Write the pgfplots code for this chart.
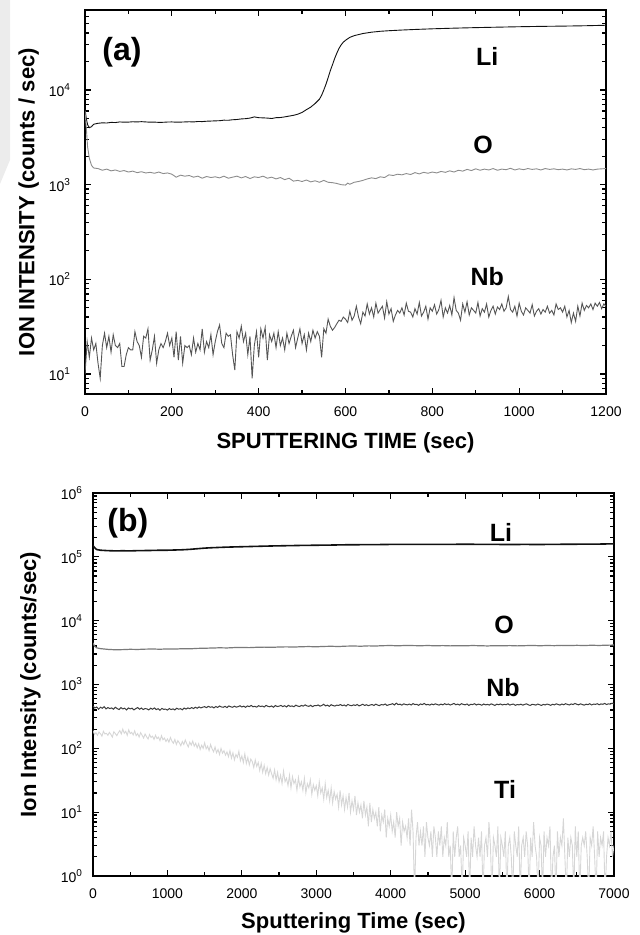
\documentclass[border=0pt]{standalone}
\usepackage{fontspec}
\setmainfont{Liberation Sans}
\usepackage{pgfplots}
\pgfplotsset{compat=1.18}

\definecolor{liline}{HTML}{111111}
\definecolor{oline}{HTML}{8C8C8C}
\definecolor{nbline}{HTML}{555555}
\definecolor{oline2}{HTML}{7A7A7A}
\definecolor{nbline2}{HTML}{3C3C3C}
\definecolor{tiline}{HTML}{D6D6D6}

\pgfplotsset{
  every axis/.append style={
    scale only axis,
    width=260.5pt,
    tick align=inside,
    axis line style={line width=0.9pt},
    major tick length=3pt,
    minor tick length=1.8pt,
    tick label style={font=\fontsize{7}{8}\selectfont},
    label style={font=\fontsize{11}{13}\selectfont\bfseries},
    xticklabel style={yshift=-3pt},
  },
  every tick/.append style={black,line width=0.6pt},
}
\tikzset{speclabel/.style={font=\fontsize{12.5}{14}\selectfont\bfseries}}

\begin{document}
\begin{tikzpicture}
\path[use as bounding box] (0,0) rectangle (319.5pt,-467.5pt);
\fill[gray!15] (0,0) -- (5pt,0) -- (5pt,-80pt) -- (0,-92pt) -- cycle;

% ---------------- (a) ----------------
\begin{axis}[
  ymode=log,
  at={(42.5pt,-197pt)}, anchor=south west, height=192pt,
  xmin=0, xmax=1200, ymin=6.15, ymax=70000,
  xtick={0,200,400,600,800,1000,1200},
  xticklabels={0,200,400,600,800,1000,1200},
  minor xtick={100,300,500,700,900,1100},
  ytick={10,100,1000,10000},
  yticklabels={10\textsuperscript{1},10\textsuperscript{2},10\textsuperscript{3},10\textsuperscript{4}},
  minor ytick={7,8,9,20,30,40,50,60,70,80,90,200,300,400,500,600,700,800,900,2000,3000,4000,5000,6000,7000,8000,9000,20000,30000,40000,50000,60000,70000},
  yticklabel style={xshift=-3.5pt},
  xlabel={SPUTTERING TIME (sec)},
  ylabel={ION INTENSITY (counts / sec)},
  xlabel style={at={(axis description cs:0.5,-0.128)}, anchor=center},
  ylabel style={at={(axis description cs:-0.108,0.5)}, anchor=center},
]
% Li
\addplot[liline, line width=0.45pt] coordinates {
(0,6300)(3,5000)(6,4300)(10,4000)(15,4100)(20,4350)(30,4450)(40,4500)(50,4480)(60,4550)
(70,4530)(80,4600)(90,4570)(100,4580)(110,4620)(120,4600)(130,4630)(140,4600)(150,4570)(160,4580)
(170,4550)(180,4560)(190,4590)(200,4600)(210,4570)(220,4580)(230,4600)(240,4620)(250,4600)(260,4650)
(270,4640)(280,4680)(290,4700)(300,4720)(310,4740)(320,4800)(330,4790)(340,4850)(350,4880)(360,4950)
(370,4980)(380,5050)(390,5200)(400,5100)(410,5080)(420,5050)(430,5000)(440,5100)(450,5120)(460,5200)
(470,5300)(480,5400)(490,5550)(500,5800)(510,6200)(520,6600)(530,7200)(540,8000)(545,8800)(550,10000)
(555,11500)(560,13500)(565,16000)(570,18500)(575,21500)(580,24500)(585,27500)(590,30000)(595,32000)(600,33500)
(610,36000)(620,37500)(630,38500)(640,39500)(660,40800)(680,41700)(700,42300)(730,43000)(760,43600)(800,44300)
(850,45000)(900,45600)(950,46100)(1000,46600)(1050,47000)(1100,47300)(1150,47700)(1200,48300)
};
% O
\addplot[oline, line width=0.45pt] coordinates {
(0,6000)(3,4000)(6,2500)(10,1900)(15,1600)(20,1500)(30,1480)(40,1420)(50,1460)(60,1400)
(70,1430)(80,1380)(90,1410)(100,1360)(110,1390)(120,1340)(130,1370)(140,1330)(150,1350)(160,1320)
(170,1360)(180,1310)(190,1330)(200,1290)(210,1200)(220,1260)(230,1230)(240,1250)(250,1200)(260,1230)
(270,1170)(280,1220)(290,1190)(300,1210)(310,1180)(320,1230)(330,1170)(340,1200)(350,1230)(360,1180)
(370,1220)(380,1160)(390,1210)(400,1190)(410,1230)(420,1170)(430,1200)(440,1150)(450,1190)(460,1130)
(470,1170)(480,1090)(490,1110)(500,1080)(510,1120)(520,1070)(530,1100)(540,1060)(550,1110)(560,1060)
(570,1050)(580,1030)(590,1000)(600,990)(605,1040)(610,1010)(620,1060)(630,1080)(640,1110)(650,1150)
(660,1180)(670,1160)(680,1210)(690,1190)(700,1270)(710,1250)(720,1290)(730,1270)(740,1310)(750,1280)
(760,1340)(770,1300)(780,1350)(790,1320)(800,1360)(810,1330)(820,1380)(830,1350)(840,1400)(850,1360)
(860,1420)(870,1390)(880,1450)(890,1410)(900,1470)(910,1420)(920,1460)(930,1430)(940,1480)(950,1420)
(960,1460)(970,1440)(980,1490)(990,1430)(1000,1470)(1010,1440)(1020,1480)(1030,1450)(1040,1470)(1050,1430)
(1060,1480)(1070,1450)(1080,1470)(1090,1440)(1100,1460)(1110,1430)(1120,1470)(1130,1450)(1140,1480)(1150,1440)
(1160,1460)(1170,1430)(1180,1460)(1190,1470)(1200,1480)
};
% Nb
\addplot[nbline, line width=0.45pt] coordinates {
(0,10)(5,22)(10,15)(15,24)(20,18)(25,21)(30,13)(35,9)(40,20)(45,27)
(50,19)(55,25)(60,17)(65,26)(70,20)(75,19)(80,21)(85,12)(90,12)(95,16)
(100,19)(105,18)(110,18)(115,28)(120,22)(125,20)(130,15)(135,25)(140,24)(145,30)
(150,14)(155,18)(160,25)(165,13)(170,18)(175,21)(180,19)(185,22)(190,27)(195,20)
(200,24)(205,15)(210,28)(215,14)(220,25)(225,13)(230,20)(235,19)(240,20)(245,16)
(250,24)(255,17)(260,21)(265,18)(270,30)(275,17)(280,22)(285,19)(290,26)(295,16)
(300,22)(305,28)(310,33)(315,21)(320,19)(325,27)(330,25)(335,26)(340,16)(345,11)
(350,28)(355,24)(360,32)(365,22)(370,27)(375,16)(380,25)(385,9)(390,20)(395,28)
(400,15)(405,30)(410,24)(415,31)(420,14)(425,26)(430,22)(435,27)(440,19)(445,28)
(450,20)(455,24)(460,18)(465,27)(470,21)(475,25)(480,29)(485,19)(490,24)(495,30)
(500,21)(505,26)(510,18)(515,27)(520,22)(525,29)(530,24)(535,28)(540,25)(545,15)
(550,30)(555,27)(560,38)(565,32)(570,29)(575,31)(580,34)(585,37)(590,36)(595,40)
(600,38)(605,35)(610,46)(615,37)(620,41)(625,52)(630,40)(635,34)(640,45)(645,41)
(650,55)(655,43)(660,50)(665,40)(670,56)(675,44)(680,48)(685,52)(690,39)(695,58)
(700,43)(705,49)(710,36)(715,42)(720,47)(725,44)(730,50)(735,42)(740,56)(745,46)
(750,45)(755,40)(760,49)(765,43)(770,57)(775,41)(780,45)(785,52)(790,38)(795,50)
(800,46)(805,54)(810,43)(815,48)(820,60)(825,40)(830,50)(835,44)(840,53)(845,42)
(850,64)(855,47)(860,44)(865,37)(870,55)(875,45)(880,58)(885,42)(890,50)(895,47)
(900,44)(905,57)(910,41)(915,49)(920,45)(925,55)(930,40)(935,47)(940,52)(945,43)
(950,51)(955,48)(960,55)(965,46)(970,50)(975,66)(980,48)(985,45)(990,52)(995,41)
(1000,56)(1005,46)(1010,42)(1015,50)(1020,47)(1025,44)(1030,54)(1035,41)(1040,46)(1045,49)
(1050,43)(1055,48)(1060,45)(1065,52)(1070,44)(1075,47)(1080,42)(1085,55)(1090,48)(1095,50)
(1100,45)(1105,52)(1110,40)(1115,47)(1120,35)(1125,44)(1130,36)(1135,52)(1140,41)(1145,56)
(1150,47)(1155,53)(1160,50)(1165,55)(1170,48)(1175,56)(1180,52)(1185,57)(1190,49)(1195,55)
(1200,52)
};
\node[font=\fontsize{16}{18}\selectfont\bfseries] at (rel axis cs:0.071,0.891) {(a)};
\node[speclabel] at (rel axis cs:0.772,0.878) {Li};
\node[speclabel] at (rel axis cs:0.764,0.648) {O};
\node[speclabel] at (rel axis cs:0.772,0.305) {Nb};
\end{axis}

% ---------------- (b) ----------------
\begin{axis}[
  ymode=log,
  at={(46.5pt,-438pt)}, anchor=south west, height=191.5pt,
  xmin=0, xmax=7000, ymin=1, ymax=1000000,
  xtick={0,1000,2000,3000,4000,5000,6000,7000},
  xticklabels={0,1000,2000,3000,4000,5000,6000,7000},
  minor xtick={500,1500,2500,3500,4500,5500,6500},
  ytick={1,10,100,1000,10000,100000,1000000},
  yticklabels={10\textsuperscript{0},10\textsuperscript{1},10\textsuperscript{2},10\textsuperscript{3},10\textsuperscript{4},10\textsuperscript{5},10\textsuperscript{6}},
  minor ytick={2,3,4,5,6,7,8,9,20,30,40,50,60,70,80,90,200,300,400,500,600,700,800,900,2000,3000,4000,5000,6000,7000,8000,9000,20000,30000,40000,50000,60000,70000,80000,90000,200000,300000,400000,500000,600000,700000,800000,900000},
  yticklabel style={xshift=-1.5pt},
  xlabel={Sputtering Time (sec)},
  ylabel={Ion Intensity (counts/sec)},
  xlabel style={at={(axis description cs:0.5,-0.123)}, anchor=center},
  ylabel style={at={(axis description cs:-0.12,0.5)}, anchor=center},
]
% Ti
\addplot[tiline, line width=0.45pt] coordinates {
(0,190)(20,165)(40,175)(60,160)(80,180)(100,170)(120,155)(140,185)(160,168)(180,172)
(200,160)(220,178)(240,165)(260,150)(280,182)(300,170)(320,158)(340,175)(360,190)(380,168)
(400,200)(420,172)(440,185)(460,160)(480,195)(500,170)(520,178)(540,162)(560,188)(580,158)
(600,170)(620,150)(640,176)(660,160)(680,145)(700,168)(720,152)(740,140)(760,165)(780,148)
(800,155)(820,138)(840,160)(860,142)(880,150)(900,132)(920,158)(940,136)(960,145)(980,128)
(1000,140)(1020,125)(1040,148)(1060,130)(1080,120)(1100,138)(1120,115)(1140,132)(1160,122)(1180,110)
(1200,128)(1220,115)(1240,135)(1260,118)(1280,105)(1300,125)(1320,112)(1340,130)(1360,108)(1380,120)
(1400,102)(1420,118)(1440,96)(1460,112)(1480,100)(1500,122)(1520,98)(1540,108)(1560,92)(1580,115)
(1600,98)(1620,88)(1640,105)(1660,85)(1680,96)(1700,80)(1720,100)(1740,84)(1760,92)(1780,78)
(1800,88)(1820,74)(1840,92)(1860,70)(1880,85)(1900,66)(1920,80)(1940,72)(1960,90)(1980,64)
(2000,76)(2020,60)(2040,82)(2060,58)(2080,72)(2100,55)(2120,68)(2140,62)(2160,50)(2180,66)
(2200,52)(2220,60)(2240,45)(2260,58)(2280,42)(2300,54)(2320,40)(2340,50)(2360,38)(2380,48)
(2400,40)(2420,34)(2440,46)(2460,32)(2480,42)(2500,30)(2520,38)(2540,28)(2560,44)(2580,30)
(2600,34)(2620,26)(2640,38)(2660,24)(2680,36)(2700,28)(2720,32)(2740,22)(2760,35)(2780,25)
(2800,30)(2820,22)(2840,34)(2860,20)(2880,28)(2900,24)(2920,32)(2940,19)(2960,27)(2980,22)
(3000,26)(3020,18)(3040,30)(3060,20)(3080,24)(3100,16)(3120,28)(3140,17)(3160,22)(3180,15)
(3200,24)(3220,14)(3240,21)(3260,16)(3280,19)(3300,12)(3320,22)(3340,13)(3360,18)(3380,11)
(3400,17)(3420,12)(3440,20)(3460,10)(3480,15)(3500,11)(3520,18)(3540,9)(3560,14)(3580,10)
(3600,13)(3620,8)(3640,15)(3660,9)(3680,12)(3700,6)(3720,14)(3740,7)(3760,11)(3780,8)
(3800,10)(3820,6)(3840,12)(3860,5)(3880,9)(3900,7)(3920,11)(3940,4)(3960,8)(3980,6)
(4000,9)(4020,5)(4040,7)(4060,4)(4080,10)(4100,6)(4120,8)(4140,3)(4160,7)(4180,5)
(4200,6)(4220,4)(4240,8)(4260,3)(4280,11)(4300,5)(4320,0.5)(4340,4)(4360,7)(4380,3)
(4400,5)(4420,3)(4440,6)(4460,2)(4480,7)(4500,4)(4520,3)(4540,5)(4560,2)(4580,6)
(4600,4)(4620,2)(4640,5)(4660,3)(4680,6)(4700,2)(4720,4)(4740,3)(4760,7)(4780,2)
(4800,3)(4820,0.5)(4840,5)(4860,2)(4880,4)(4900,6)(4920,2)(4940,3)(4960,0.5)(4980,4)
(5000,3)(5020,2)(5040,5)(5060,0.5)(5080,4)(5100,2)(5120,6)(5140,3)(5160,2)(5180,4)
(5200,2)(5220,5)(5240,0.5)(5260,3)(5280,4)(5300,2)(5320,7)(5340,3)(5360,0.5)(5380,4)
(5400,3)(5420,2)(5440,6)(5460,0.5)(5480,4)(5500,3)(5520,2)(5540,5)(5560,0.5)(5580,3)
(5600,4)(5620,2)(5640,0.5)(5660,5)(5680,3)(5700,2)(5720,6)(5740,0.5)(5760,3)(5780,4)
(5800,2)(5820,5)(5840,3)(5860,0.5)(5880,4)(5900,2)(5920,7)(5940,3)(5960,2)(5980,0.5)
(6000,4)(6020,3)(6040,0.5)(6060,5)(6080,2)(6100,4)(6120,3)(6140,6)(6160,0.5)(6180,2)
(6200,3)(6220,0.5)(6240,5)(6260,2)(6280,4)(6300,3)(6320,8)(6340,2)(6360,0.5)(6380,4)
(6400,2)(6420,4)(6440,3)(6460,0.5)(6480,6)(6500,2)(6520,5)(6540,0.5)(6560,3)(6580,4)
(6600,3)(6620,5)(6640,2)(6660,0.5)(6680,4)(6700,3)(6720,6)(6740,2)(6760,0.5)(6780,5)
(6800,2)(6820,4)(6840,3)(6860,5)(6880,0.5)(6900,2)(6920,4)(6940,3)(6960,5)(6980,2)
(7000,3)
};
% Nb
\addplot[nbline2, line width=0.5pt] coordinates {
(0,460)(25,430)(50,445)(75,410)(100,440)(125,425)(150,450)(175,415)(200,435)(225,420)
(250,430)(275,410)(300,440)(325,420)(350,405)(375,435)(400,415)(425,425)(450,400)(475,430)
(500,415)(525,425)(550,400)(575,420)(600,435)(625,410)(650,428)(675,405)(700,420)(725,415)
(750,400)(775,425)(800,410)(825,430)(850,405)(875,418)(900,395)(925,422)(950,408)(975,412)
(1000,398)(1025,420)(1050,405)(1075,415)(1100,400)(1125,425)(1150,410)(1175,418)(1200,402)(1225,428)
(1250,412)(1275,430)(1300,418)(1325,435)(1350,420)(1375,440)(1400,425)(1425,445)(1450,430)(1475,442)
(1500,450)(1525,435)(1550,455)(1575,440)(1600,448)(1625,430)(1650,452)(1675,438)(1700,460)(1725,445)
(1750,440)(1775,455)(1800,435)(1825,462)(1850,448)(1875,440)(1900,458)(1925,442)(1950,450)(1975,465)
(2000,445)(2025,458)(2050,440)(2075,462)(2100,450)(2125,470)(2150,448)(2175,455)(2200,442)(2225,466)
(2250,452)(2275,460)(2300,445)(2325,470)(2350,455)(2375,448)(2400,462)(2425,440)(2450,468)(2475,452)
(2500,458)(2525,470)(2550,450)(2575,465)(2600,445)(2625,472)(2650,455)(2675,462)(2700,448)(2725,475)
(2750,460)(2775,452)(2800,470)(2825,458)(2850,480)(2875,462)(2900,455)(2925,472)(2950,450)(2975,468)
(3000,465)(3025,478)(3050,458)(3075,470)(3100,490)(3125,462)(3150,475)(3175,455)(3200,482)(3225,468)
(3250,460)(3275,475)(3300,470)(3325,485)(3350,466)(3375,478)(3400,460)(3425,488)(3450,472)(3475,465)
(3500,480)(3525,470)(3550,486)(3575,462)(3600,475)(3625,490)(3650,470)(3675,482)(3700,466)(3725,478)
(3750,485)(3775,470)(3800,492)(3825,475)(3850,468)(3875,486)(3900,478)(3925,495)(3950,470)(3975,482)
(4000,488)(4025,500)(4050,478)(4075,510)(4100,484)(4125,492)(4150,475)(4175,498)(4200,486)(4225,480)
(4250,494)(4275,478)(4300,502)(4325,485)(4350,490)(4375,472)(4400,496)(4425,484)(4450,505)(4475,480)
(4500,488)(4525,476)(4550,495)(4575,482)(4600,498)(4625,486)(4650,475)(4675,492)(4700,480)(4725,500)
(4750,485)(4775,495)(4800,478)(4825,490)(4850,505)(4875,482)(4900,494)(4925,476)(4950,500)(4975,488)
(5000,480)(5025,496)(5050,470)(5075,490)(5100,484)(5125,500)(5150,478)(5175,492)(5200,486)(5225,474)
(5250,495)(5275,480)(5300,488)(5325,476)(5350,498)(5375,484)(5400,470)(5425,492)(5450,482)(5475,496)
(5500,478)(5525,490)(5550,482)(5575,500)(5600,476)(5625,488)(5650,494)(5675,472)(5700,486)(5725,480)
(5750,492)(5775,475)(5800,488)(5825,498)(5850,480)(5875,470)(5900,490)(5925,484)(5950,476)(5975,494)
(6000,482)(6025,470)(6050,488)(6075,478)(6100,494)(6125,484)(6150,472)(6175,490)(6200,480)(6225,498)
(6250,486)(6275,476)(6300,495)(6325,482)(6350,500)(6375,488)(6400,478)(6425,496)(6450,485)(6475,505)
(6500,490)(6525,480)(6550,498)(6575,486)(6600,475)(6625,492)(6650,484)(6675,500)(6700,478)(6725,494)
(6750,488)(6775,500)(6800,482)(6825,496)(6850,490)(6875,505)(6900,486)(6925,498)(6950,492)(6975,510)
(7000,495)
};
% O
\addplot[oline2, line width=0.6pt] coordinates {
(0,4500)(20,4000)(50,3750)(100,3650)(200,3550)(300,3500)(400,3520)(500,3560)(600,3540)(700,3580)
(800,3600)(900,3570)(1000,3610)(1100,3590)(1200,3640)(1300,3620)(1400,3680)(1500,3700)(1600,3730)(1700,3760)
(1800,3740)(1900,3790)(2000,3810)(2100,3780)(2200,3830)(2300,3850)(2400,3820)(2500,3870)(2600,3890)(2700,3860)
(2800,3910)(2900,3930)(3000,3900)(3100,3950)(3200,3970)(3300,3940)(3400,3990)(3500,4010)(3600,3980)(3700,4030)
(3800,4010)(3900,4060)(4000,4080)(4100,4040)(4200,4090)(4300,4070)(4400,4050)(4500,4080)(4600,4040)(4700,4070)
(4800,4030)(4900,4060)(5000,4040)(5100,4080)(5200,4050)(5300,4020)(5400,4060)(5500,4040)(5600,4070)(5700,4030)
(5800,4060)(5900,4090)(6000,4050)(6100,4080)(6200,4060)(6300,4100)(6400,4070)(6500,4110)(6600,4080)(6700,4120)
(6800,4090)(6900,4130)(7000,4150)
};
% Li
\addplot[liline, line width=0.8pt] coordinates {
(0,150000)(20,140000)(50,130000)(100,127000)(200,125000)(300,124000)(400,124500)(500,124000)(600,125000)(700,125500)
(800,126000)(900,127000)(1000,127000)(1100,128000)(1200,129000)(1300,131000)(1400,134000)(1500,137000)(1600,139000)(1700,140500)
(1800,142000)(1900,143000)(2000,144000)(2200,146000)(2400,148000)(2600,149500)(2800,151000)(3000,152000)(3200,153000)(3400,154500)
(3600,155000)(3800,155500)(4000,156500)(4200,157000)(4400,157000)(4600,156500)(4800,157000)(5000,157500)(5200,157000)(5400,156500)
(5600,156000)(5800,156500)(6000,156000)(6200,157000)(6400,157500)(6600,158000)(6800,158500)(7000,160000)
};
\node[font=\fontsize{16}{18}\selectfont\bfseries] at (rel axis cs:0.067,0.922) {(b)};
\node[speclabel] at (rel axis cs:0.783,0.896) {Li};
\node[speclabel] at (rel axis cs:0.789,0.655) {O};
\node[speclabel] at (rel axis cs:0.787,0.491) {Nb};
\node[speclabel] at (rel axis cs:0.791,0.225) {Ti};
\end{axis}
\end{tikzpicture}
\end{document}
